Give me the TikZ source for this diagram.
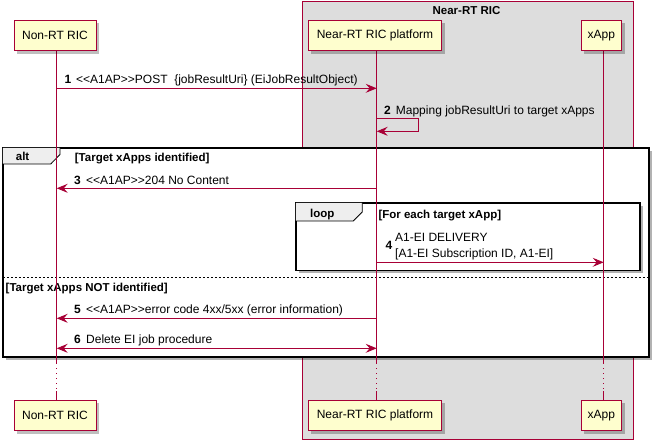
\documentclass[tikz,border=0pt]{standalone}
\usepackage{fontspec}
\setmainfont{Liberation Sans}
\usetikzlibrary{arrows.meta,shadows}
\definecolor{plborder}{HTML}{A80036}
\definecolor{plfill}{HTML}{FEFECE}
\definecolor{plgroup}{HTML}{DDDDDD}
\definecolor{pltab}{HTML}{EEEEEE}
\newcommand\ltlt{<\kern0pt<}
\newcommand\gtgt{>\kern0pt>}
\begin{document}
\begin{tikzpicture}[x=1pt,y=-1pt,
  part/.style={draw=plborder, fill=plfill, line width=0.9pt, minimum height=30.5pt, inner sep=0pt,
    font=\fontsize{12}{14}\selectfont,
    drop shadow={shadow xshift=3pt,shadow yshift=-3pt,fill=black,opacity=0.25}},
  life/.style={draw=plborder, line width=0.8pt},
  msg/.style={draw=plborder, line width=0.9pt, -{Stealth[length=11pt,width=9pt,inset=4pt]}},
  bmsg/.style={draw=plborder, line width=0.9pt, {Stealth[length=11pt,width=9pt,inset=4pt]}-{Stealth[length=11pt,width=9pt,inset=4pt]}},
  lbl/.style={font=\fontsize{12}{14}\selectfont, inner sep=0pt, anchor=base west},
  num/.style={font=\fontsize{12}{14}\selectfont\bfseries, inner sep=0pt, anchor=base west},
  guard/.style={font=\fontsize{11.5}{13}\selectfont\bfseries, inner sep=0pt, anchor=base west},
  frame/.style={draw=black, line width=1.6pt, fill=white, inner sep=0pt, anchor=north west,
    drop shadow={shadow xshift=3pt,shadow yshift=-3pt,fill=black,opacity=0.3}},
  tabline/.style={draw=black, line width=0.8pt},
  sep/.style={draw=black, line width=0.8pt, dash pattern=on 2pt off 2pt}
]
\useasboundingbox (0,0) rectangle (655,440);

% group box
\node[draw=plborder, fill=plgroup, line width=0.9pt, minimum width=331pt, minimum height=438.5pt,
      anchor=north west, inner sep=0pt] (grp) at (301.5,0.5) {};
\node[guard, anchor=base] (grpT) at (466.5,14) {Near-RT RIC};

% alt frame
\node[frame, minimum width=646pt, minimum height=209pt] (altF) at (2,147) {};
\fill[pltab] (2.8,147.8) -- (60,147.8) -- (60,154.5) -- (50.7,163.8) -- (2.8,163.8) -- cycle;
\draw[tabline] (60,147) -- (60,154.5) -- (50.7,164) -- (2,164);
\node[guard] (altL) at (15.7,160) {alt};
\node[guard] (g1) at (74.7,161) {[Target xApps identified]};
\draw[sep] (2.8,277.3) -- (647.2,277.3);
\node[guard] (g2) at (5.5,291) {[Target xApps NOT identified]};

% loop frame
\node[frame, minimum width=344pt, minimum height=67.5pt] (loopF) at (295,202) {};
\fill[pltab] (295.8,202.8) -- (362.3,202.8) -- (362.3,212) -- (353.3,220.8) -- (295.8,220.8) -- cycle;
\draw[tabline] (362.3,202) -- (362.3,212) -- (353.3,221) -- (295,221);
\node[guard] (loopL) at (310,217.3) {loop};
\node[guard] (g3) at (378.3,218.3) {[For each target xApp]};

% lifeline coordinates
\coordinate (L1) at (56.7,0);
\coordinate (L2) at (376.7,0);
\coordinate (L3) at (603.7,0);
\coordinate (ytop) at (0,50.5);
\coordinate (ysol) at (0,363);
\coordinate (ydot) at (0,391);
\coordinate (ybot) at (0,400);

\foreach \L in {L1,L2,L3}{
  \draw[life] (\L |- ytop) -- (\L |- ysol);
  \draw[life, dash pattern=on 1pt off 4pt] (\L |- ysol) -- (\L |- ydot);
  \draw[life] (\L |- ydot) -- (\L |- ybot);
}

% participants
\node[part, minimum width=82pt] (p1t) at (55,35.5) {Non-RT RIC};
\node[part, minimum width=133.4pt] (p2t) at (375,35.5) {Near-RT RIC platform};
\node[part, minimum width=40.7pt] (p3t) at (601.3,35.5) {xApp};
\node[part, minimum width=82pt] (p1b) at (55,415.5) {Non-RT RIC};
\node[part, minimum width=133.4pt] (p2b) at (375,415.5) {Near-RT RIC platform};
\node[part, minimum width=40.7pt] (p3b) at (601.3,415.5) {xApp};

% message y levels
\coordinate (y1) at (0,88.3);
\coordinate (y2a) at (0,118.3);
\coordinate (y2b) at (0,131.3);
\coordinate (x2) at (418.3,0);
\coordinate (y3) at (0,188.3);
\coordinate (y4) at (0,262.3);
\coordinate (y5) at (0,318.3);
\coordinate (y6) at (0,348.3);

% 1
\draw[msg] (L1 |- y1) -- (L2 |- y1);
\node[num] (n1) at (64.3,83) {1};
\node[lbl] (t1) at (76,83) {\ltlt A1AP\gtgt POST\ \ \{jobResultUri\} (EiJobResultObject)};
% 2
\draw[msg] (L2 |- y2a) -- (x2 |- y2a) -- (x2 |- y2b) -- (L2 |- y2b);
\node[num] (n2) at (384,114) {2};
\node[lbl] (t2) at (395.7,114) {Mapping jobResultUri to target xApps};
% 3
\draw[msg] (L2 |- y3) -- (L1 |- y3);
\node[num] (n3) at (74,184) {3};
\node[lbl] (t3) at (86,184) {\ltlt A1AP\gtgt 204 No Content};
% 4
\draw[msg] (L2 |- y4) -- (L3 |- y4);
\node[num] (n4) at (385.5,249.5) {4};
\node[lbl] (t4a) at (395,241) {A1-EI DELIVERY};
\node[lbl] (t4b) at (395,257.5) {[A1-EI Subscription ID, A1-EI]};
% 5
\draw[msg] (L2 |- y5) -- (L1 |- y5);
\node[num] (n5) at (74,313.3) {5};
\node[lbl] (t5) at (86,313.3) {\ltlt A1AP\gtgt error code 4xx/5xx (error information)};
% 6
\draw[bmsg] (L1 |- y6) -- (L2 |- y6);
\node[num] (n6) at (74,343.3) {6};
\node[lbl] (t6) at (86,343.3) {Delete EI job procedure};
\end{tikzpicture}
\end{document}
